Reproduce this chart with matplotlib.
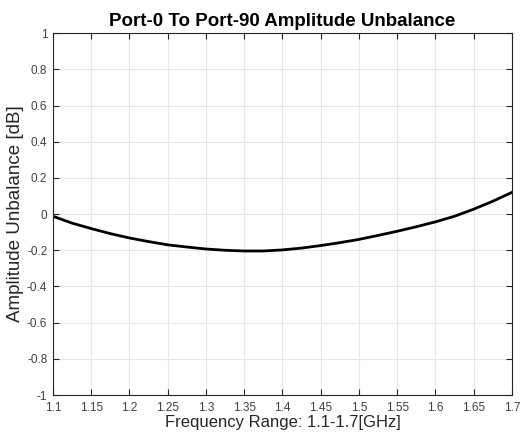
import matplotlib
matplotlib.use("Agg")
import matplotlib.pyplot as plt
import numpy as np

freq = [1.1, 1.125, 1.15, 1.175, 1.2, 1.225, 1.25, 1.275, 1.3, 1.325, 1.35, 1.375,
        1.4, 1.425, 1.45, 1.475, 1.5, 1.525, 1.55, 1.575, 1.6, 1.625, 1.65, 1.675, 1.7]
unbalance = [-0.012, -0.05, -0.08, -0.108, -0.132, -0.152, -0.17, -0.182, -0.193, -0.2, -0.204, -0.204,
             -0.198, -0.188, -0.174, -0.158, -0.14, -0.118, -0.095, -0.07, -0.043, -0.012, 0.027, 0.071, 0.12]
xticks = [1.1, 1.15, 1.2, 1.25, 1.3, 1.35, 1.4, 1.45, 1.5, 1.55, 1.6, 1.65, 1.7]
yticks = [-1, -0.8, -0.6, -0.4, -0.2, 0, 0.2, 0.4, 0.6, 0.8, 1]

plt.rcParams['font.family'] = ['Liberation Sans', 'DejaVu Sans']
fig = plt.figure(figsize=(5.24, 4.36), dpi=100)
ax = fig.add_axes([0.101, 0.094, 0.876, 0.830])
ax.plot(freq, unbalance, color='black', linewidth=2.0)
ax.set_xlim(1.1, 1.7)
ax.set_ylim(-1, 1)
ax.set_xticks(xticks)
ax.set_xticklabels([f"{t:g}" for t in xticks])
ax.set_yticks(yticks)
ax.set_yticklabels([f"{t:g}" for t in yticks])
ax.grid(True, color='#e6e6e6', linewidth=0.8)
ax.set_axisbelow(True)
ax.tick_params(direction='in', length=4, labelsize=8.5, colors='#262626', labelcolor='#404040',
               top=True, right=True)
ax.tick_params(axis='x', pad=5)
ax.tick_params(axis='y', pad=4)
for s in ax.spines.values():
    s.set_color('#262626')
    s.set_linewidth(0.8)
ax.set_title('Port-0 To Port-90 Amplitude Unbalance', fontsize=13.5, fontweight='bold', pad=5)
ax.set_xlabel('Frequency Range: 1.1-1.7[GHz]', fontsize=12, color='#262626', labelpad=1)
ax.set_ylabel('Amplitude Unbalance [dB]', fontsize=13.5, color='#262626', labelpad=2)
fig.savefig('out.png', dpi=100)
